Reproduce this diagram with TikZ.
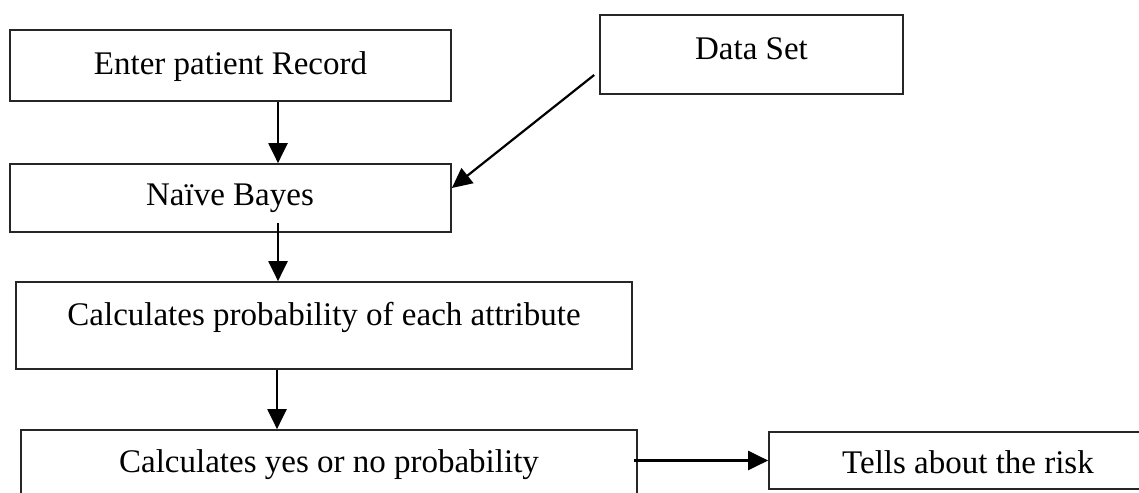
\documentclass[tikz,border=0pt]{standalone}
\usepackage{fontspec}
\setmainfont{Liberation Serif}
\usetikzlibrary{arrows.meta,calc}
\begin{document}
\begin{tikzpicture}[x=1pt,y=-1pt,
  box/.style={draw=black!85,line width=1.7pt,inner sep=0pt,rectangle},
  lbl/.style={anchor=base,inner sep=0pt,font=\fontsize{33}{40}\selectfont},
  arr/.style={line width=2.2pt,-{Triangle[length=20pt,width=19pt]}}]
\useasboundingbox (0,0) rectangle (1139,492);
\clip (0,0) rectangle (1139,492);
\fill[white] (0,0) rectangle (1139,492);

% boxes
\node[box,minimum width=441pt,minimum height=71pt] (rec) at (230.5,65.5) {};
\node[box,minimum width=303pt,minimum height=79pt] (data) at (751.5,54.5) {};
\node[box,minimum width=441pt,minimum height=68pt] (nb) at (230.5,198) {};
\node[box,minimum width=616pt,minimum height=87pt] (prob) at (324,325.5) {};
\node[box,minimum width=616pt,minimum height=75pt] (yn) at (329,467.5) {};
\node[box,minimum width=440pt,minimum height=57pt] (risk) at (989,460.5) {};

% labels
\node[lbl] (trec) at (230.5,75) {Enter patient Record};
\node[lbl] (tdata) at (751.5,60) {Data Set};
\node[lbl] (tnb) at (230,205) {Naïve Bayes};
\node[lbl] (tprob) at (324,325) {Calculates probability of each attribute};
\node[lbl] (tyn) at (329,472) {Calculates yes or no probability};
\node[lbl] (trisk) at (968,473) {Tells about the risk};

% connectors
\coordinate (dsout) at ($(data.west)+(-5,20.5)$);
\draw[arr] (rec.south -| 278,0) -- (nb.north -| 278,0);
\draw[arr] (dsout) -- ($(nb.east)+(0,-10)$);
\draw[arr] ($(nb.south -| 278,0)+(0,-10)$) -- (prob.north -| 278,0);
\draw[arr] (prob.south -| 277,0) -- (yn.north -| 277,0);
\draw[arr] ($(yn.east |- risk.center)+(-4,0)$) -- (risk.west);
\end{tikzpicture}
\end{document}
